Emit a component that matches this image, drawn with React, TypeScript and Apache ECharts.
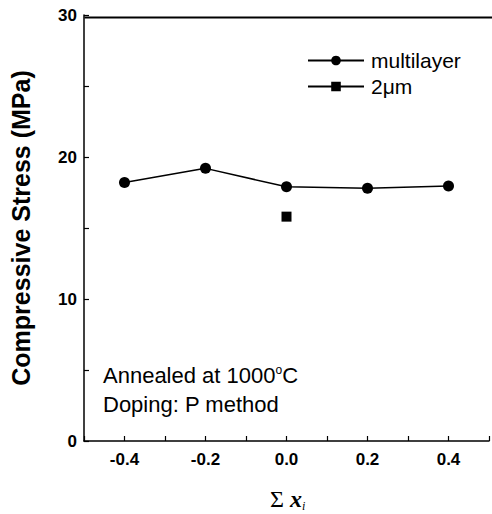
import React, { useEffect, useRef } from "react";
import * as echarts from "echarts";

const xValues = [-0.4, -0.2, 0.0, 0.2, 0.4];
const multilayerValues = [18.2, 19.2, 17.9, 17.8, 17.95];
const thinX = [0.0];
const thinValues = [15.8];
const annotationLines = ["Annealed at 1000", "Doping: P method"];

export default function App() {
  const ref = useRef<HTMLDivElement>(null);
  useEffect(() => {
    if (!ref.current) return;
    const chart = echarts.init(ref.current, null, { renderer: "svg" });
    const font = "Liberation Sans, Arial, sans-serif";
    chart.setOption({
      animation: false,
      backgroundColor: "#fff",
      grid: { left: 82, top: 15, width: 412, height: 426, containLabel: false },
      xAxis: {
        type: "value",
        min: -0.5,
        max: 0.5,
        interval: 0.1,
        axisLine: { show: true, onZero: false, lineStyle: { color: "#000", width: 1.5 } },
        axisTick: { show: true, inside: true, length: 5, lineStyle: { color: "#000", width: 1.2 } },
        axisLabel: {
          color: "#000",
          fontFamily: font,
          fontWeight: "bold",
          fontSize: 17,
          margin: 10,
          formatter: (v: number) => {
            const r = Math.round(v * 10) / 10;
            if (Math.abs(Math.round(r * 10)) % 2 === 1) return "";
            if (Math.abs(r) > 0.45) return "";
            return r.toFixed(1);
          }
        },
        splitLine: { show: false }
      },
      yAxis: {
        type: "value",
        min: 0,
        max: 30,
        interval: 5,
        name: "Compressive Stress (MPa)",
        nameLocation: "middle",
        nameGap: 51,
        nameTextStyle: { fontFamily: font, fontWeight: "bold", fontSize: 25, color: "#000" },
        axisLine: { show: true, onZero: false, lineStyle: { color: "#000", width: 1.5 } },
        axisTick: { show: true, inside: true, length: 5, lineStyle: { color: "#000", width: 1.2 } },
        axisLabel: {
          color: "#000",
          fontFamily: font,
          fontWeight: "bold",
          fontSize: 17,
          margin: 7,
          formatter: (v: number) => (v % 10 === 0 ? String(v) : "")
        },
        splitLine: { show: false }
      },
      legend: {
        left: 302,
        top: 45,
        orient: "vertical",
        itemWidth: 56,
        itemHeight: 12,
        itemGap: 5,
        textStyle: { fontFamily: font, fontSize: 21, color: "#000", padding: [0, 0, 0, 2] },
        data: ["multilayer", "2μm"]
      },
      graphic: [
        {
          type: "text",
          left: 103,
          top: 364,
          style: {
            text: annotationLines[0] + "{s|o}C",
            font: "22px Liberation Sans, Arial, sans-serif",
            fill: "#000",
            rich: { s: { fontSize: 12, verticalAlign: "top", padding: [0, 0, 10, 0], fontFamily: font } }
          }
        },
        {
          type: "text",
          left: 103,
          top: 393,
          style: { text: annotationLines[1], font: "22px Liberation Sans, Arial, sans-serif", fill: "#000" }
        },
        {
          type: "text",
          x: 270,
          y: 486,
          style: {
            text: "Σ {x|x}{i|i}",
            font: "24px Liberation Serif, Times New Roman, serif",
            fill: "#000",
            rich: {
              x: { fontFamily: "Liberation Serif, serif", fontStyle: "italic", fontWeight: "bold", fontSize: 24 },
              i: { fontFamily: "Liberation Serif, serif", fontStyle: "italic", fontSize: 12, verticalAlign: "bottom", padding: [14, 0, 0, 0] }
            }
          }
        },
        {
          type: "line",
          left: 82,
          top: 15,
          shape: { x1: 0, y1: 0, x2: 412, y2: 0 },
          style: { stroke: "#000", lineWidth: 1.8 }
        }
      ],
      series: [
        {
          name: "multilayer",
          type: "line",
          data: xValues.map((x, i) => [x, multilayerValues[i]]),
          symbol: "circle",
          symbolSize: 11,
          itemStyle: { color: "#000" },
          lineStyle: { color: "#000", width: 1.5 }
        },
        {
          name: "2μm",
          type: "line",
          data: thinX.map((x, i) => [x, thinValues[i]]),
          symbol: "rect",
          symbolSize: 10,
          itemStyle: { color: "#000" },
          lineStyle: { color: "#000", width: 1.5 }
        }
      ]
    });
    return () => chart.dispose();
  }, []);
  return <div ref={ref} style={{ width: 492, height: 514, position: "absolute", left: 0, top: 0 }} />;
}
